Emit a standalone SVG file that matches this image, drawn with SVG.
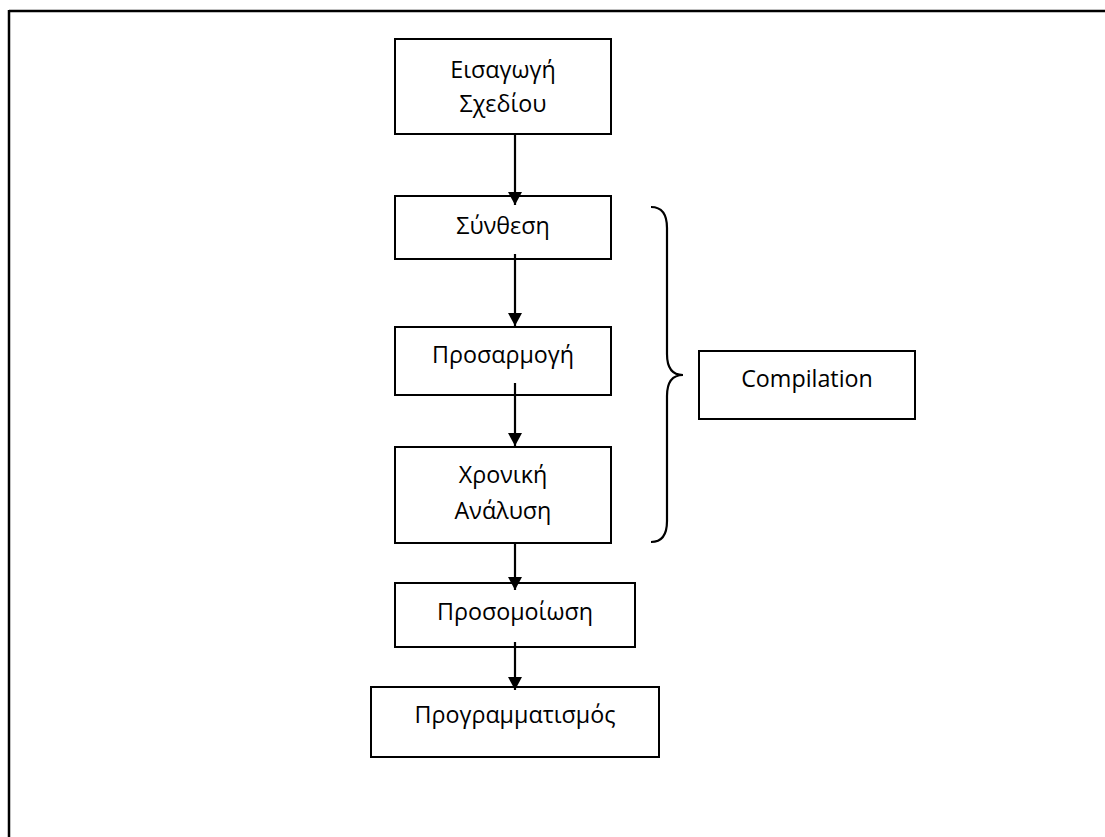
<svg xmlns="http://www.w3.org/2000/svg" width="1105" height="837" viewBox="0 0 1105 837">
<style>
.box{fill:#fff;stroke:#000;stroke-width:2}
.t{font-family:"Open Sans","Liberation Sans",Arial,sans-serif;font-size:23.3px;fill:#000;text-anchor:middle}
.c{stroke:#000;stroke-width:2.2;fill:none}
</style>
<defs>
<marker id="ah" markerWidth="13" markerHeight="14" refX="13" refY="7" orient="auto" markerUnits="userSpaceOnUse">
<path d="M0,0 L13,7 L0,14 Z" fill="#000"/>
</marker>
</defs>
<rect width="1105" height="837" fill="#fff"/>
<g id="frame">
<line x1="9" y1="11" x2="1105" y2="11" stroke="#000" stroke-width="2.5"/>
<line x1="9" y1="10" x2="9" y2="837" stroke="#000" stroke-width="2.5"/>
</g>
<g id="n1"><rect class="box" x="395" y="39" width="216" height="95"/><text class="t" x="503" y="78">Εισαγωγή</text><text class="t" x="503" y="112">Σχεδίου</text></g>
<g id="n2"><rect class="box" x="395" y="196" width="216" height="63"/><text class="t" x="503" y="234">Σύνθεση</text></g>
<g id="n3"><rect class="box" x="395" y="327" width="216" height="68"/><text class="t" x="503" y="363">Προσαρμογή</text></g>
<g id="n4"><rect class="box" x="395" y="447" width="216" height="96"/><text class="t" x="503" y="483">Χρονική</text><text class="t" x="503" y="519">Ανάλυση</text></g>
<g id="n5"><rect class="box" x="395" y="583" width="240" height="64"/><text class="t" x="515" y="620">Προσομοίωση</text></g>
<g id="n6"><rect class="box" x="371" y="687" width="288" height="70"/><text class="t" x="515" y="723">Προγραμματισμός</text></g>
<g id="n7"><rect class="box" x="699" y="351" width="216" height="68"/><text class="t" x="807" y="387">Compilation</text></g>
<g id="brace">
<path class="c" d="M651,207 C662,207 667,214 667,228 L667,354 C667,368 672,375 683,375 C672,375 667,382 667,396 L667,521 C667,535 662,542 651,542"/>
</g>
<g id="connectors">
<line class="c" x1="515" y1="134" x2="515" y2="205" marker-end="url(#ah)"/>
<line class="c" x1="515" y1="254" x2="515" y2="326" marker-end="url(#ah)"/>
<line class="c" x1="515" y1="383" x2="515" y2="446" marker-end="url(#ah)"/>
<line class="c" x1="515" y1="543" x2="515" y2="590" marker-end="url(#ah)"/>
<line class="c" x1="515" y1="642" x2="515" y2="690" marker-end="url(#ah)"/>
</g>
</svg>
